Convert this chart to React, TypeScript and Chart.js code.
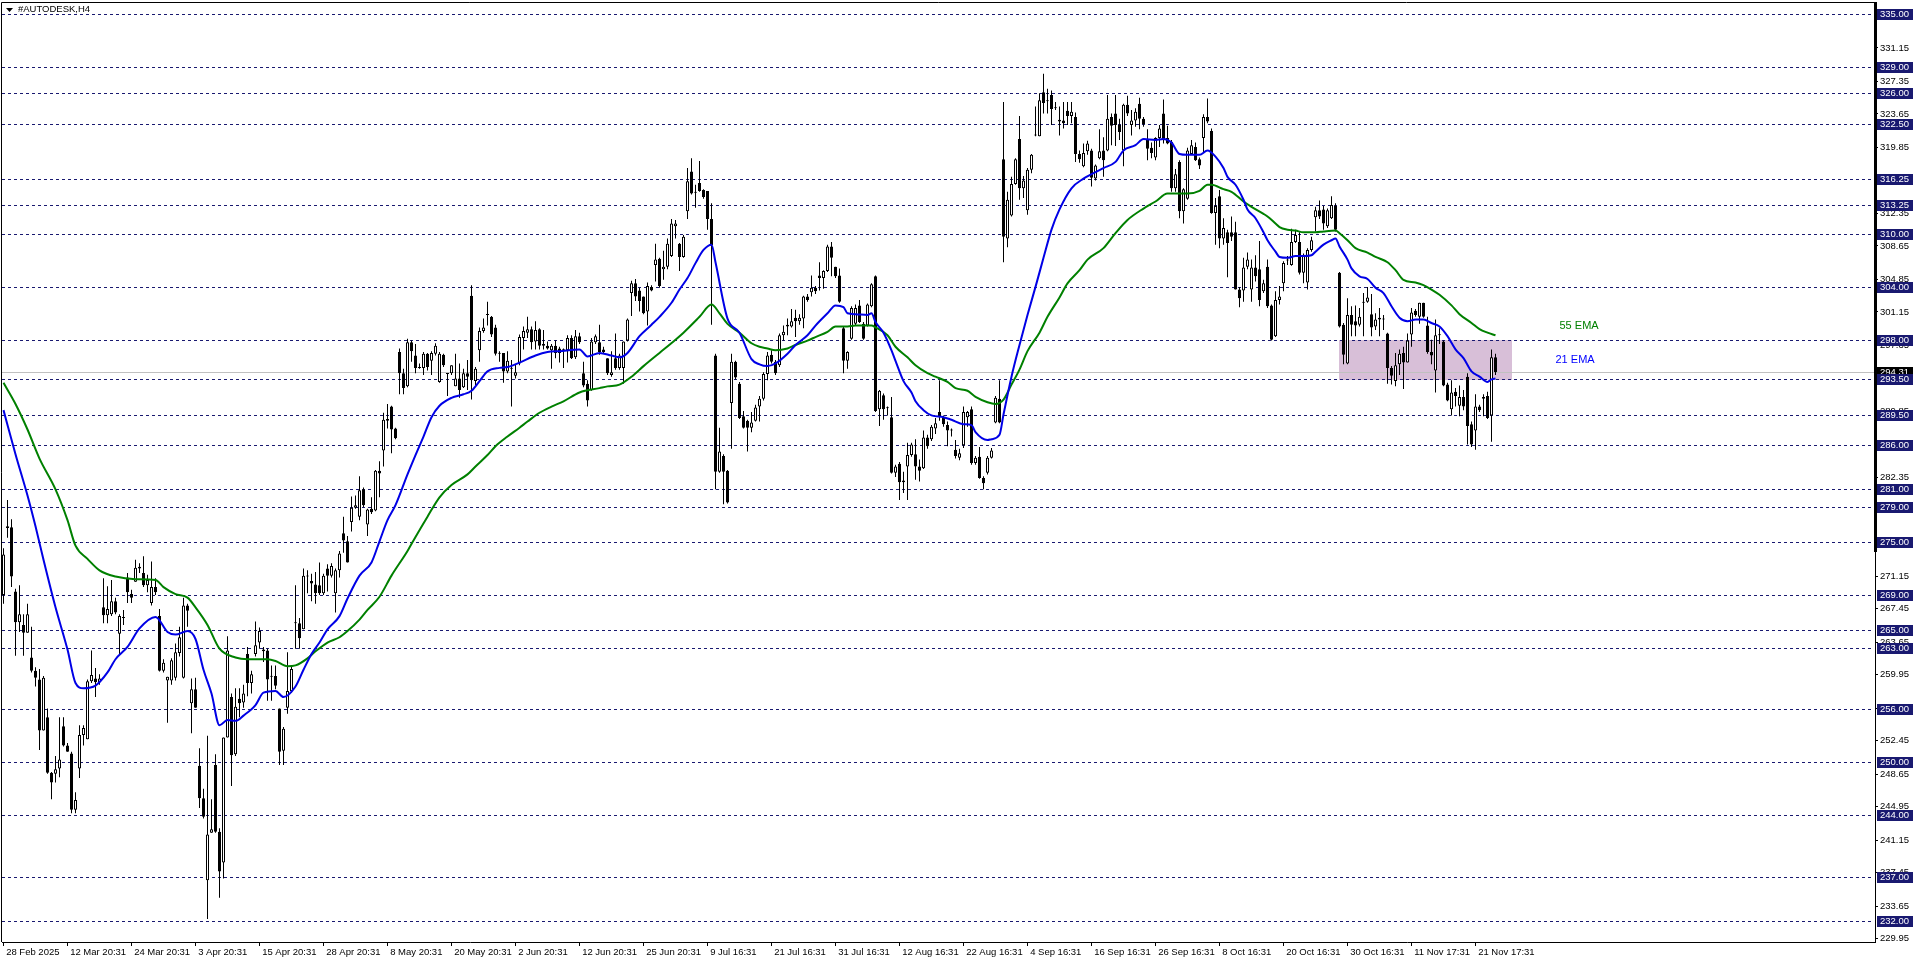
import React, { useEffect, useRef } from 'react';
import { Chart, registerables } from 'chart.js';

Chart.register(...registerables);

// ---------------- DATA ----------------
const symbolTitle = '#AUTODESK,H4';

const opens = [
  269.0, 276.8, 276.7, 269.4, 265.9, 265.6, 264.7, 261.9, 260.4, 259.4,
  253.6, 255.1, 248.8, 248.7, 249.3, 254.1, 251.9, 251.0, 244.6, 249.3,
  253.1, 252.6, 259.2, 259.5, 259.1, 267.6, 266.7, 266.8, 268.3, 264.6,
  266.4, 271.0, 269.1, 270.5, 272.0, 271.5, 270.1, 268.1, 269.9, 266.6,
  260.4, 259.3, 259.3, 259.6, 262.4, 259.6, 267.8, 256.7, 258.3, 249.6,
  245.9, 236.6, 242.0, 249.7, 242.1, 238.6, 252.8, 257.4, 250.9, 257.2,
  256.8, 262.3, 259.0, 262.3, 263.6, 262.8, 262.7, 259.8, 259.8, 256.1,
  251.3, 256.2, 258.1, 265.8, 265.8, 265.1, 271.1, 270.6, 270.2, 270.1,
  269.2, 272.0, 271.2, 269.2, 271.8, 276.0, 275.1, 277.3, 278.9, 277.9,
  281.0, 277.0, 278.8, 278.6, 283.1, 285.4, 288.8, 290.4, 287.9, 296.6,
  294.2, 292.7, 297.7, 296.2, 294.9, 294.8, 296.4, 295.6, 296.4, 293.2,
  296.3, 294.1, 294.2, 292.7, 293.6, 292.6, 294.2, 303.0, 293.3, 296.8,
  299.0, 300.8, 300.6, 299.4, 296.4, 296.5, 294.4, 294.8, 293.9, 295.3,
  298.2, 298.8, 299.2, 297.8, 299.2, 297.5, 297.3, 296.8, 297.3, 297.0,
  296.8, 296.8, 298.2, 296.0, 298.4, 294.2, 293.0, 292.3, 297.7, 297.7,
  296.9, 295.9, 294.0, 295.9, 294.8, 294.8, 297.9, 303.3, 304.4, 303.6,
  302.9, 301.2, 304.0, 306.5, 307.2, 306.0, 306.3, 307.5, 310.9, 308.9,
  307.4, 312.6, 317.1, 314.7, 315.8, 315.0, 314.9, 311.7, 296.2, 283.0,
  284.8, 283.1, 290.8, 295.5, 293.0, 289.3, 288.8, 288.0, 288.8, 290.4,
  291.3, 294.1, 296.3, 295.5, 295.1, 298.5, 299.5, 299.5, 300.5, 300.1,
  300.4, 302.9, 303.4, 303.9, 305.3, 305.0, 305.8, 308.6, 306.3, 305.3,
  299.3, 295.6, 298.1, 299.8, 301.9, 299.8, 299.6, 301.8, 305.2, 290.1,
  291.7, 290.2, 289.2, 282.9, 283.9, 282.0, 283.6, 284.9, 285.0, 283.6,
  283.4, 286.9, 286.7, 287.9, 289.8, 289.2, 288.3, 287.7, 285.5, 284.6,
  286.0, 289.2, 290.1, 284.0, 284.7, 282.3, 282.9, 284.6, 288.6, 291.3,
  318.5, 309.5, 312.1, 315.7, 320.8, 315.2, 312.7, 317.3, 321.2, 321.1,
  326.1, 325.2, 325.8, 324.3, 323.0, 322.9, 324.0, 323.4, 323.3, 319.1,
  317.7, 319.4, 319.5, 316.3, 318.6, 319.5, 319.5, 323.3, 323.7, 322.4,
  319.5, 324.7, 322.4, 322.9, 324.8, 323.1, 320.7, 319.8, 318.7, 320.9,
  323.7, 320.9, 320.5, 315.2, 318.2, 312.6, 314.0, 319.1, 319.9, 318.5,
  320.9, 323.3, 321.7, 312.4, 314.3, 309.5, 310.2, 310.2, 310.2, 303.7,
  303.6, 306.3, 303.7, 306.2, 306.0, 303.5, 306.3, 301.9, 298.4, 302.5,
  304.4, 307.0, 306.5, 309.1, 309.1, 305.6, 304.5, 308.2, 311.9, 312.7,
  312.8, 310.9, 311.8, 313.2, 305.6, 299.7, 295.3, 300.8, 300.1, 299.7,
  302.2, 302.3, 300.9, 299.5, 300.5, 300.3, 298.7, 294.8, 293.3, 295.2,
  296.5, 295.4, 298.6, 301.3, 300.6, 302.2, 299.6, 296.6, 294.5, 298.5,
  297.8, 292.9, 290.1, 292.1, 290.5, 291.5, 293.8, 288.4, 287.7, 290.4,
  291.5, 291.6, 289.4, 296.0,
];

const highs = [
  274.3, 279.8, 277.6, 269.7, 270.1, 266.8, 268.0, 265.4, 260.8, 260.6,
  259.8, 256.1, 248.9, 250.7, 255.1, 255.1, 252.2, 251.2, 246.6, 254.2,
  254.2, 259.4, 262.7, 260.7, 260.0, 270.9, 270.0, 270.7, 268.7, 266.8,
  267.3, 271.5, 269.6, 273.0, 272.6, 273.4, 271.3, 272.8, 270.9, 267.4,
  261.7, 259.7, 261.8, 263.5, 265.4, 268.7, 268.0, 259.5, 259.6, 251.6,
  247.0, 253.0, 245.8, 250.9, 242.5, 252.8, 264.3, 257.8, 258.4, 258.4,
  258.8, 263.1, 260.4, 266.0, 265.3, 263.1, 262.9, 261.0, 261.0, 256.1,
  254.0, 262.5, 261.0, 270.1, 266.4, 272.0, 271.8, 271.4, 271.6, 272.7,
  271.4, 272.5, 272.6, 272.0, 274.0, 277.9, 275.7, 280.2, 280.3, 282.5,
  281.2, 278.8, 280.1, 283.2, 284.2, 289.7, 290.7, 290.5, 288.0, 297.0,
  294.7, 298.1, 297.9, 297.5, 295.3, 296.6, 296.5, 296.7, 297.6, 296.6,
  296.4, 294.2, 295.1, 296.4, 295.3, 294.7, 295.7, 304.2, 294.9, 299.4,
  300.4, 302.3, 300.7, 299.7, 296.7, 296.5, 296.7, 295.7, 295.2, 298.6,
  299.5, 300.6, 299.5, 300.1, 299.3, 299.1, 297.8, 297.5, 297.9, 297.2,
  297.0, 298.5, 298.5, 299.1, 298.8, 295.5, 293.4, 298.2, 298.6, 299.7,
  297.2, 295.9, 296.7, 298.7, 296.4, 297.8, 300.4, 304.7, 304.9, 303.9,
  302.9, 304.5, 304.2, 308.9, 307.3, 308.1, 309.5, 311.7, 311.6, 309.0,
  309.9, 317.5, 318.6, 315.6, 318.3, 315.1, 314.9, 313.5, 296.4, 288.0,
  285.0, 283.2, 296.4, 295.6, 293.2, 289.9, 288.9, 289.8, 290.6, 291.6,
  294.3, 296.6, 296.8, 295.7, 298.7, 299.6, 300.4, 301.5, 301.4, 300.9,
  303.0, 303.2, 305.3, 304.1, 306.8, 305.9, 308.8, 309.1, 306.3, 306.1,
  299.5, 296.7, 301.8, 302.0, 302.5, 300.0, 302.1, 304.4, 305.3, 292.3,
  291.9, 290.4, 291.5, 283.8, 284.1, 283.0, 286.3, 286.3, 286.7, 284.4,
  287.7, 287.2, 288.3, 289.1, 293.4, 289.4, 288.7, 287.9, 286.6, 285.6,
  290.4, 289.9, 290.4, 284.8, 285.8, 282.5, 284.8, 285.7, 291.6, 293.4,
  325.0, 314.8, 316.5, 318.6, 323.4, 316.6, 317.5, 319.1, 324.5, 326.0,
  328.2, 326.5, 326.3, 325.0, 324.5, 325.0, 325.0, 325.0, 323.8, 319.5,
  320.3, 320.6, 319.7, 317.9, 321.9, 321.0, 325.8, 323.7, 325.8, 323.1,
  324.8, 325.7, 324.1, 324.3, 325.5, 323.3, 321.9, 320.4, 321.0, 322.4,
  325.3, 322.3, 320.7, 317.4, 318.4, 315.2, 319.8, 320.7, 320.4, 318.7,
  323.6, 325.4, 322.0, 314.1, 315.0, 311.8, 310.5, 312.0, 311.4, 304.0,
  307.3, 307.9, 307.1, 307.6, 309.2, 304.8, 307.1, 302.0, 303.5, 304.1,
  306.9, 307.5, 310.6, 310.5, 310.2, 307.8, 308.4, 309.7, 313.1, 313.8,
  313.2, 312.9, 314.3, 313.5, 305.7, 299.9, 302.7, 301.8, 301.9, 301.6,
  303.3, 304.0, 303.2, 301.0, 301.6, 300.8, 298.8, 295.0, 296.5, 296.9,
  297.2, 298.7, 301.6, 301.5, 302.2, 302.2, 300.6, 298.0, 300.3, 299.3,
  297.9, 293.1, 293.4, 292.5, 292.8, 292.3, 294.2, 288.7, 291.8, 290.6,
  291.8, 292.1, 296.9, 296.4,
];

const lows = [
  268.0, 275.5, 269.9, 262.1, 264.8, 262.1, 264.7, 260.2, 258.6, 251.4,
  253.6, 248.7, 245.8, 247.7, 248.3, 251.8, 251.2, 244.2, 244.2, 248.2,
  251.9, 252.6, 259.0, 257.4, 258.8, 265.8, 265.8, 266.6, 266.8, 262.3,
  265.6, 268.1, 268.1, 270.5, 271.5, 269.9, 269.3, 267.8, 269.0, 260.3,
  260.2, 254.5, 258.8, 259.3, 262.0, 259.5, 265.4, 253.3, 256.2, 244.8,
  243.6, 232.2, 242.0, 242.0, 234.6, 236.8, 252.8, 247.3, 250.7, 255.1,
  256.2, 257.5, 257.8, 262.0, 262.9, 261.4, 257.0, 257.0, 258.3, 249.7,
  249.7, 255.5, 257.9, 262.9, 262.9, 265.1, 269.2, 268.3, 268.0, 269.0,
  269.0, 269.4, 271.0, 267.0, 271.0, 273.8, 272.7, 276.2, 278.8, 277.5,
  279.0, 275.7, 278.2, 278.5, 280.1, 283.6, 287.9, 285.1, 286.7, 291.8,
  291.8, 292.6, 295.5, 294.2, 294.7, 294.0, 294.5, 294.0, 296.2, 293.1,
  294.9, 291.6, 294.0, 292.7, 291.4, 292.5, 292.3, 291.2, 292.8, 295.5,
  298.8, 299.6, 298.3, 296.2, 295.5, 293.1, 294.2, 290.4, 293.6, 295.1,
  296.9, 298.2, 296.9, 296.9, 296.9, 296.9, 296.9, 294.7, 295.9, 295.4,
  294.8, 295.4, 295.8, 295.8, 297.5, 292.6, 290.4, 292.2, 297.5, 296.3,
  296.4, 294.0, 293.8, 294.6, 294.6, 293.0, 297.8, 300.7, 302.4, 301.2,
  300.9, 299.6, 303.5, 304.6, 303.9, 304.8, 306.0, 307.4, 309.5, 305.8,
  307.3, 311.7, 314.5, 313.0, 314.8, 314.0, 310.5, 299.7, 281.0, 282.9,
  279.3, 279.4, 285.6, 293.5, 289.0, 287.9, 285.3, 287.5, 288.7, 288.7,
  291.1, 293.4, 295.3, 294.0, 294.9, 297.9, 298.5, 299.4, 298.3, 299.7,
  299.3, 302.3, 302.9, 303.2, 303.6, 303.8, 305.7, 305.2, 305.0, 302.2,
  294.2, 294.7, 298.0, 299.6, 299.9, 298.0, 299.5, 301.7, 289.8, 288.2,
  288.9, 289.4, 282.8, 282.4, 279.8, 280.6, 279.8, 284.7, 282.1, 281.9,
  283.3, 285.6, 286.5, 287.3, 288.8, 288.1, 285.9, 287.0, 284.5, 284.3,
  285.7, 288.1, 283.8, 283.8, 282.2, 281.0, 282.7, 284.5, 288.5, 288.5,
  306.8, 308.5, 312.0, 315.6, 313.9, 314.1, 312.2, 316.9, 321.1, 321.1,
  323.7, 323.7, 322.4, 324.1, 321.2, 322.0, 322.4, 322.6, 318.2, 318.1,
  317.6, 319.0, 315.4, 316.1, 318.5, 316.5, 319.4, 320.1, 320.0, 320.7,
  317.7, 323.4, 321.2, 322.2, 321.9, 322.2, 318.4, 318.6, 318.4, 319.9,
  320.3, 320.2, 314.8, 314.8, 311.8, 311.2, 313.9, 319.0, 318.3, 317.4,
  319.2, 322.6, 312.3, 308.8, 308.4, 308.8, 305.1, 309.2, 303.7, 301.7,
  302.3, 306.0, 302.3, 304.6, 301.8, 303.3, 301.6, 297.9, 298.3, 302.0,
  303.5, 306.5, 306.4, 309.0, 305.4, 304.4, 303.7, 308.0, 310.3, 311.7,
  310.5, 310.7, 311.7, 310.3, 299.4, 295.2, 295.2, 298.4, 298.4, 299.5,
  298.4, 302.2, 298.4, 299.1, 298.4, 299.1, 293.0, 292.9, 292.7, 294.0,
  292.4, 295.4, 297.2, 300.6, 299.8, 300.5, 296.4, 295.2, 292.0, 297.5,
  292.7, 291.0, 289.4, 290.4, 289.3, 290.0, 286.1, 285.8, 285.5, 289.8,
  289.3, 289.0, 286.4, 294.0,
];

const closes = [
  273.6, 276.6, 271.1, 265.9, 266.8, 264.7, 266.8, 260.4, 259.6, 253.6,
  259.6, 248.8, 247.7, 249.2, 250.3, 251.9, 251.2, 244.6, 245.7, 253.1,
  253.9, 259.2, 259.9, 259.1, 259.5, 266.7, 267.4, 268.3, 267.0, 266.6,
  266.4, 269.3, 268.7, 272.1, 272.2, 270.1, 270.7, 269.9, 269.3, 260.4,
  261.3, 259.7, 261.6, 262.5, 264.2, 267.8, 267.2, 258.3, 256.2, 245.9,
  243.8, 241.8, 242.4, 242.1, 237.6, 252.8, 262.7, 250.8, 256.3, 256.7,
  257.8, 259.0, 260.0, 263.3, 264.9, 262.6, 259.4, 259.7, 258.7, 251.2,
  253.8, 258.1, 260.6, 265.9, 264.1, 271.2, 271.2, 270.3, 269.2, 269.2,
  271.2, 271.2, 272.3, 271.8, 273.7, 275.2, 272.7, 278.9, 279.2, 280.9,
  279.2, 278.7, 278.4, 283.1, 282.8, 288.9, 289.0, 287.8, 286.8, 294.2,
  292.5, 297.7, 296.7, 294.8, 294.8, 296.4, 294.9, 296.5, 297.3, 296.4,
  295.1, 294.1, 295.1, 293.6, 292.3, 294.2, 293.8, 293.4, 294.7, 299.0,
  299.4, 300.9, 298.6, 296.4, 296.4, 294.4, 295.6, 294.7, 294.3, 298.3,
  299.0, 299.2, 297.7, 299.1, 297.3, 297.3, 297.0, 297.3, 296.5, 296.5,
  296.8, 298.2, 295.9, 298.4, 297.7, 292.8, 291.1, 297.8, 298.4, 296.6,
  296.6, 294.2, 294.3, 294.8, 296.2, 297.8, 300.3, 304.4, 302.9, 302.4,
  301.0, 304.1, 303.6, 307.1, 304.1, 306.3, 308.9, 311.2, 311.2, 307.4,
  309.7, 316.0, 314.6, 314.7, 314.9, 314.2, 311.7, 308.7, 283.0, 285.3,
  283.0, 279.5, 295.5, 293.7, 289.1, 288.0, 288.0, 288.6, 290.3, 291.3,
  294.1, 296.2, 295.5, 294.2, 298.5, 298.9, 299.7, 300.1, 300.1, 300.5,
  302.9, 302.5, 303.9, 303.5, 305.0, 305.8, 308.6, 307.3, 305.2, 302.3,
  295.6, 296.6, 301.6, 301.6, 300.0, 298.1, 302.0, 304.3, 289.9, 292.2,
  290.1, 290.2, 282.9, 283.6, 281.8, 281.8, 284.9, 286.1, 283.6, 283.1,
  286.9, 285.9, 288.1, 288.5, 289.2, 288.4, 287.7, 287.7, 284.8, 285.1,
  289.8, 289.8, 284.0, 284.6, 282.3, 281.7, 284.6, 285.4, 291.4, 288.6,
  309.7, 313.9, 315.7, 318.5, 315.2, 316.1, 317.3, 319.0, 321.3, 325.2,
  324.9, 325.1, 324.2, 324.3, 322.8, 322.6, 323.4, 323.9, 319.1, 318.5,
  319.2, 320.3, 316.4, 317.8, 319.4, 318.4, 323.1, 322.3, 322.4, 321.6,
  324.7, 323.7, 322.9, 323.9, 323.1, 322.5, 319.7, 319.2, 320.9, 322.0,
  320.7, 320.3, 315.2, 316.8, 312.6, 315.1, 319.5, 320.1, 318.4, 317.8,
  323.3, 322.8, 312.4, 313.2, 309.5, 310.7, 309.0, 309.7, 303.7, 302.7,
  306.2, 307.1, 306.2, 305.2, 302.5, 304.4, 301.8, 298.0, 302.5, 302.9,
  306.7, 307.1, 309.1, 309.9, 305.6, 307.6, 308.2, 309.3, 312.7, 312.0,
  311.2, 312.7, 313.3, 310.5, 299.5, 296.3, 300.8, 299.7, 299.6, 300.6,
  302.3, 302.8, 299.4, 300.3, 300.3, 300.3, 294.8, 293.9, 295.1, 296.4,
  295.4, 297.9, 301.1, 300.8, 302.2, 300.6, 296.6, 296.2, 298.5, 298.5,
  292.8, 291.1, 292.0, 291.6, 291.5, 290.4, 288.2, 286.1, 290.4, 290.0,
  291.3, 289.1, 296.0, 294.31,
];

// 21-period EMA: bar index -> value
const ema21Idx = [
  0, 3, 6, 8, 10, 13, 16, 18, 20, 23, 26, 28, 31, 34, 38, 41, 43, 46, 48, 50,
  52, 54, 56, 58, 60, 63, 65, 68, 70, 73, 75, 77, 79, 81, 84, 86, 89, 92, 94, 96,
  98, 101, 103, 105, 107, 109, 112, 115, 117, 119, 121, 124, 126, 129, 133, 136, 139, 144, 146, 149,
  152, 154, 156, 159, 162, 164, 167, 169, 171, 173, 175, 177, 178, 181, 184, 187, 189, 191, 193, 196,
  198, 201, 203, 206, 208, 210, 211, 213, 216, 217, 218, 220, 222, 223, 225, 227, 228, 230, 232, 235,
  237, 240, 242, 243, 246, 247, 249, 250, 252, 254, 256, 258, 260, 262, 264, 267, 270, 272, 275, 278,
  280, 283, 285, 288, 290, 292, 294, 296, 299, 301, 303, 305, 306, 308, 310, 311, 313, 315, 316, 318,
  319, 321, 323, 325, 327, 328, 330, 332, 333, 334, 336, 337, 339, 341, 343, 345, 347, 349, 351, 353,
  355, 357, 359, 361, 363, 365, 367, 369, 371, 372, 373,
];
const ema21Val = [
  290.0, 285.0, 280.3, 276.8, 273.0, 267.6, 262.8, 259.0, 258.4, 258.7, 260.2, 261.7, 263.1, 265.2, 266.5, 264.8, 264.5, 264.9, 264.0, 260.5,
  257.8, 254.2, 254.8, 254.7, 255.3, 256.5, 257.9, 258.1, 257.4, 258.6, 260.5, 262.3, 263.6, 265.1, 266.6, 268.6, 271.2, 272.7, 275.1, 277.5,
  279.2, 282.7, 284.9, 287.0, 289.2, 290.5, 291.4, 291.8, 292.2, 293.3, 294.4, 294.8, 294.9, 295.4, 296.2, 296.6, 296.7, 296.9, 296.1, 296.5,
  296.2, 296.0, 296.5, 298.4, 299.7, 300.6, 302.2, 303.7, 305.0, 306.7, 308.2, 308.8, 306.8, 300.4, 298.8, 295.8, 295.2, 295.0, 295.3, 296.4,
  297.4, 298.5, 299.6, 301.0, 301.9, 301.7, 301.0, 300.9, 300.8, 301.0, 300.0, 298.8, 296.8, 295.6, 293.3, 292.0, 291.0, 290.0, 289.4, 289.2,
  288.9, 288.4, 288.3, 287.5, 286.6, 286.7, 287.2, 289.5, 293.8, 297.4, 300.8, 304.0, 307.3, 310.5, 312.8, 315.2, 316.3, 316.8, 317.5, 318.2,
  319.5, 320.1, 320.8, 320.7, 320.8, 320.4, 319.1, 319.0, 319.0, 319.5, 318.8, 317.5, 316.5, 315.6, 313.9, 312.8, 311.8, 310.2, 309.3, 308.0,
  307.4, 307.3, 307.5, 307.5, 307.6, 308.0, 308.8, 309.3, 309.5, 308.6, 307.1, 306.1, 305.2, 304.9, 303.9, 303.3, 301.8, 300.5, 300.1, 300.3,
  300.3, 299.9, 299.5, 298.4, 296.9, 295.9, 294.4, 293.8, 293.2, 293.5, 293.6,
];

// 55-period EMA: bar index -> value
const ema55Idx = [
  0, 3, 6, 9, 13, 16, 18, 21, 24, 28, 33, 38, 40, 43, 46, 48, 51, 54, 58, 61,
  63, 66, 68, 71, 73, 76, 78, 81, 84, 86, 89, 91, 94, 97, 101, 103, 106, 109, 112, 116,
  118, 121, 123, 126, 129, 131, 134, 137, 140, 144, 149, 151, 154, 157, 160, 164, 168, 170, 174, 177,
  179, 181, 184, 187, 189, 191, 193, 196, 198, 201, 203, 206, 208, 211, 213, 217, 218, 221, 223, 226,
  228, 231, 233, 236, 238, 241, 243, 246, 248, 250, 252, 254, 256, 259, 261, 264, 266, 269, 271, 275,
  278, 281, 285, 288, 291, 294, 296, 299, 301, 302, 305, 307, 310, 312, 315, 316, 318, 319, 321, 323,
  325, 328, 330, 333, 334, 336, 338, 341, 343, 346, 348, 350, 353, 355, 357, 359, 362, 364, 367, 369,
  371, 373,
];
const ema55Val = [
  293.1, 290.7, 287.8, 284.5, 281.0, 277.5, 274.6, 273.1, 271.8, 271.1, 270.8, 270.7, 269.9, 269.1, 268.7, 267.6, 265.6, 262.9, 261.9, 261.7,
  261.7, 261.7, 261.5, 260.9, 261.0, 261.8, 262.6, 263.6, 264.2, 264.9, 266.2, 267.3, 268.8, 271.2, 274.0, 275.6, 277.9, 280.1, 281.5, 282.7,
  283.6, 284.9, 285.9, 287.0, 288.0, 288.7, 289.7, 290.4, 291.0, 292.0, 292.5, 292.7, 292.9, 293.8, 295.0, 296.5, 298.0, 298.8, 300.6, 302.0,
  301.0, 299.8, 298.8, 297.6, 297.2, 297.0, 296.8, 297.0, 297.4, 297.9, 298.3, 298.9, 299.5, 299.5, 299.6, 299.6, 299.4, 298.5, 297.2, 296.0,
  295.1, 294.2, 293.8, 293.2, 292.5, 292.2, 291.5, 290.9, 290.7, 291.2, 292.9, 294.6, 296.7, 298.8, 300.6, 302.8, 304.4, 305.9, 307.1, 308.4,
  310.1, 311.6, 312.9, 313.7, 314.6, 314.6, 314.6, 314.9, 315.6, 315.6, 315.1, 314.8, 313.7, 313.1, 312.3, 312.0, 311.2, 310.8, 310.5, 310.4,
  310.2, 310.2, 310.3, 310.4, 310.1, 309.3, 308.4, 307.9, 307.4, 306.8, 305.9, 304.8, 304.5, 304.2, 303.7, 303.1, 301.9, 300.9, 299.9, 299.2,
  298.8, 298.5,
];

// Horizontal levels drawn on the chart
const levels = [
  335.0, 329.0, 326.0, 322.5, 316.25, 313.25, 310.0, 304.0, 298.0, 293.5, 289.5, 286.0,
  281.0, 279.0, 275.0, 269.0, 265.0, 263.0, 256.0, 250.0, 244.0, 237.0, 232.0,
];
const currentPrice = 294.31;
const zoneHigh = 298.0;
const zoneLow = 293.5;
const zoneStartBar = 333.9;
const zoneEndBar = 377.0;

// Price scale tick labels
const yTickValues = [
  229.95, 233.65, 237.45, 241.15, 244.95, 248.65, 252.45, 256.15, 259.95, 263.65,
  267.45, 271.15, 274.85, 278.65, 282.35, 286.05, 289.85, 293.55, 297.35, 301.15,
  304.85, 308.65, 312.35, 316.15, 319.85, 323.65, 327.35, 331.15, 334.85,
];

// Time scale tick labels (bar index -> text)
const xTickIdx = [0, 16, 32, 48, 64, 80, 96, 112, 128, 144, 160, 176, 192, 208, 224, 240, 256, 272, 288, 304, 320, 336, 352, 368];
const xTickLabels = [
  '28 Feb 2025', '12 Mar 20:31', '24 Mar 20:31', '3 Apr 20:31', '15 Apr 20:31', '28 Apr 20:31',
  '8 May 20:31', '20 May 20:31', '2 Jun 20:31', '12 Jun 20:31', '25 Jun 20:31', '9 Jul 16:31',
  '21 Jul 16:31', '31 Jul 16:31', '12 Aug 16:31', '22 Aug 16:31', '4 Sep 16:31', '16 Sep 16:31',
  '26 Sep 16:31', '8 Oct 16:31', '20 Oct 16:31', '30 Oct 16:31', '11 Nov 17:31', '21 Nov 17:31',
];

// ---------------- CHART ----------------
const FONT = '"Liberation Sans", Arial, sans-serif';
const LEVEL_COLOR = '#191970';

export default function App() {
  const canvasRef = useRef<HTMLCanvasElement>(null);

  useEffect(() => {
    const canvas = canvasRef.current;
    if (!canvas) return;

    const wickData = highs.map((h, i) => ({ x: i, y: [lows[i], h] }));
    const bodyData = opens.map((o, i) => ({ x: i, y: [o, closes[i]] }));
    const bodyColors = opens.map((o, i) => (closes[i] >= o ? '#ffffff' : '#000000'));
    const ema21Data = ema21Idx.map((x, k) => ({ x, y: ema21Val[k] }));
    const ema55Data = ema55Idx.map((x, k) => ({ x, y: ema55Val[k] }));

    const overlay = {
      id: 'mtOverlay',
      beforeDatasetsDraw(chart: any) {
        const { ctx, chartArea: a, scales } = chart;
        const xs = scales.x;
        const ys = scales.y;
        ctx.save();
        // zone rectangle
        const zx1 = Math.round(xs.getPixelForValue(zoneStartBar));
        const zx2 = Math.round(xs.getPixelForValue(zoneEndBar));
        const zy1 = Math.round(ys.getPixelForValue(zoneHigh));
        const zy2 = Math.round(ys.getPixelForValue(zoneLow));
        ctx.fillStyle = '#d8bfd8';
        ctx.fillRect(zx1, zy1, zx2 - zx1, zy2 - zy1 + 1);
        // current price line
        const cy = Math.round(ys.getPixelForValue(currentPrice)) + 0.5;
        ctx.strokeStyle = '#c0c0c0';
        ctx.lineWidth = 1;
        ctx.beginPath();
        ctx.moveTo(a.left, cy);
        ctx.lineTo(a.right, cy);
        ctx.stroke();
        // levels
        ctx.strokeStyle = LEVEL_COLOR;
        ctx.setLineDash([3, 3]);
        levels.forEach((l) => {
          const ly = Math.round(ys.getPixelForValue(l)) + 0.5;
          ctx.beginPath();
          ctx.moveTo(a.left, ly);
          ctx.lineTo(a.right - 2, ly);
          ctx.stroke();
        });
        ctx.restore();
      },
      afterDraw(chart: any) {
        const { ctx, chartArea: a, scales } = chart;
        const xs = scales.x;
        const ys = scales.y;
        ctx.save();
        // frame (left + top)
        ctx.strokeStyle = '#000';
        ctx.lineWidth = 1;
        ctx.beginPath();
        ctx.moveTo(1.5, a.bottom);
        ctx.lineTo(1.5, 2.5);
        ctx.lineTo(a.right, 2.5);
        ctx.stroke();
        // thick part of the price axis
        ctx.fillStyle = '#000';
        ctx.fillRect(a.right - 1, 2, 3, 550);

        // price boxes
        ctx.font = `9.5px ${FONT}`;
        ctx.textBaseline = 'middle';
        ctx.textAlign = 'left';
        const box = (p: number, bg: string) => {
          const by = Math.round(ys.getPixelForValue(p));
          ctx.fillStyle = bg;
          ctx.fillRect(a.right + 2, by - 5, 36, 11);
          ctx.fillStyle = '#ffffff';
          ctx.fillText(p.toFixed(2), a.right + 5, by + 0.5);
        };
        box(currentPrice, '#000000');
        levels.forEach((l) => box(l, LEVEL_COLOR));

        // title
        ctx.fillStyle = '#000';
        ctx.beginPath();
        ctx.moveTo(6, 8);
        ctx.lineTo(13, 8);
        ctx.lineTo(9.5, 12);
        ctx.closePath();
        ctx.fill();
        ctx.fillText(symbolTitle, 18, 9.5);

        // EMA labels
        ctx.font = `11px ${FONT}`;
        ctx.fillStyle = '#008000';
        ctx.fillText('55 EMA', xs.getPixelForValue(389), ys.getPixelForValue(299.6));
        ctx.fillStyle = '#0000ff';
        ctx.fillText('21 EMA', xs.getPixelForValue(388), ys.getPixelForValue(295.7));
        ctx.restore();
      },
    };

    const chart = new Chart(canvas, {
      type: 'bar',
      data: {
        datasets: [
          {
            type: 'line',
            label: 'EMA 21',
            data: ema21Data,
            borderColor: '#0000e6',
            borderWidth: 2,
            pointRadius: 0,
            cubicInterpolationMode: 'monotone',
            fill: false,
            order: 0,
          } as any,
          {
            type: 'line',
            label: 'EMA 55',
            data: ema55Data,
            borderColor: '#008000',
            borderWidth: 2,
            pointRadius: 0,
            cubicInterpolationMode: 'monotone',
            fill: false,
            order: 1,
          } as any,
          {
            type: 'bar',
            label: 'body',
            data: bodyData,
            backgroundColor: bodyColors,
            borderColor: '#000000',
            borderWidth: 1,
            borderSkipped: false,
            barThickness: 3,
            minBarLength: 1,
            grouped: false,
            inflateAmount: 0,
            order: 2,
          } as any,
          {
            type: 'bar',
            label: 'wick',
            data: wickData,
            backgroundColor: '#000000',
            borderWidth: 0,
            barThickness: 1,
            minBarLength: 1,
            grouped: false,
            inflateAmount: 0,
            order: 3,
          } as any,
        ],
      },
      options: {
        responsive: false,
        maintainAspectRatio: false,
        devicePixelRatio: 1,
        animation: false,
        events: [],
        layout: { padding: { left: 2, top: 3, right: 0, bottom: 0 } },
        plugins: {
          legend: { display: false },
          tooltip: { enabled: false },
        },
        scales: {
          x: {
            type: 'linear',
            position: 'bottom',
            min: -0.375,
            max: 467.875,
            offset: false,
            afterBuildTicks: (s: any) => {
              s.ticks = xTickIdx.map((v) => ({ value: v }));
            },
            afterFit: (s: any) => {
              s.height = 21;
              s.paddingLeft = 0;
              s.paddingRight = 0;
            },
            ticks: {
              autoSkip: false,
              maxRotation: 0,
              minRotation: 0,
              align: 'start',
              padding: 1,
              color: '#000',
              font: { family: FONT, size: 9.5 },
              callback: (_v: any, i: number) => ' ' + xTickLabels[i],
            },
            grid: { display: true, drawOnChartArea: false, drawTicks: true, tickLength: 4, color: '#000', offset: false },
            border: { display: true, color: '#000', width: 1 },
          } as any,
          y: {
            type: 'linear',
            position: 'right',
            min: 229.58,
            max: 336.25,
            beginAtZero: false,
            afterBuildTicks: (s: any) => {
              s.ticks = yTickValues.map((v) => ({ value: v }));
            },
            afterFit: (s: any) => {
              s.width = 41;
              s.paddingTop = 0;
              s.paddingBottom = 0;
            },
            ticks: {
              autoSkip: false,
              padding: 2,
              color: '#000',
              font: { family: FONT, size: 9.5 },
              callback: (v: any) => Number(v).toFixed(2),
            },
            grid: { display: true, drawOnChartArea: false, drawTicks: true, tickLength: 3, color: '#000' },
            border: { display: true, color: '#000', width: 1 },
          } as any,
        },
      },
      plugins: [overlay],
    });

    return () => chart.destroy();
  }, []);

  return (
    <div style={{ position: 'absolute', left: 0, top: 0, width: 1916, height: 963, background: '#ffffff' }}>
      <canvas ref={canvasRef} width={1916} height={963} style={{ display: 'block', width: 1916, height: 963 }} />
    </div>
  );
}
